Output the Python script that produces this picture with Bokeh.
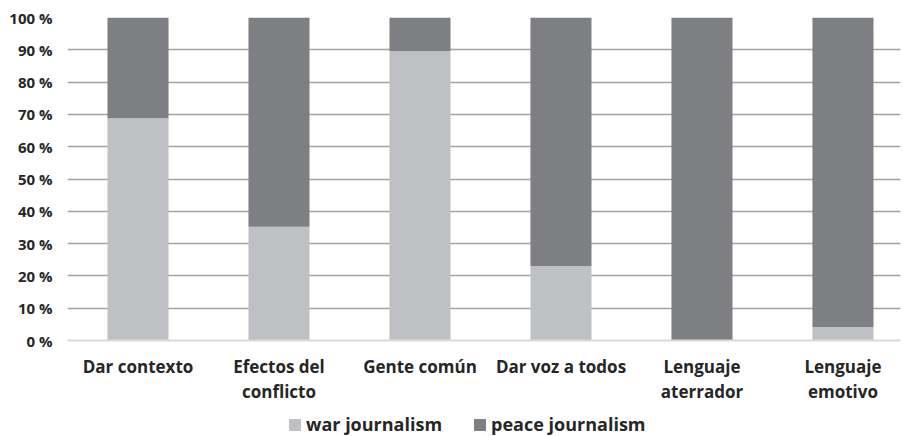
from bokeh.plotting import figure
from bokeh.layouts import column
from bokeh.models import Range1d, FixedTicker, Legend, LegendItem, ColumnDataSource
from bokeh.embed import file_html
from bokeh.resources import INLINE

categories = ["Dar contexto", "Efectos del\nconflicto", "Gente común", "Dar voz a todos",
              "Lenguaje\naterrador", "Lenguaje\nemotivo"]
positions = [0.5, 1.5, 2.5, 3.5, 4.5, 5.5]
war = [68.8, 35.2, 89.6, 23.1, 0.0, 4.2]
peace = [31.2, 64.8, 10.4, 76.9, 100.0, 95.8]
series_names = ["war journalism", "peace journalism"]
y_ticks = [0, 10, 20, 30, 40, 50, 60, 70, 80, 90, 100]

FONT = "Open Sans"
WAR_C = "#bfc0c4"
PEACE_C = "#7e7f83"

src = ColumnDataSource(dict(x=positions, war=war, peace=peace))

p = figure(width=903, height=405, output_backend="svg", toolbar_location=None,
           x_range=Range1d(0, 5.908), y_range=Range1d(0, 100),
           min_border_left=67, min_border_right=3, min_border_top=17, min_border_bottom=63)
p.outline_line_color = None
p.background_fill_color = "white"

r = p.vbar_stack(["war", "peace"], x="x", width=0.433, source=src,
                 color=[WAR_C, PEACE_C], line_color=None)

p.xgrid.grid_line_color = None
p.ygrid.grid_line_color = "#a3a3a3"
p.ygrid.grid_line_width = 1.5
p.ygrid.ticker = FixedTicker(ticks=y_ticks[1:])

p.yaxis.ticker = FixedTicker(ticks=y_ticks)
p.yaxis.major_label_overrides = {t: f"{t} %" for t in y_ticks}
p.yaxis.axis_line_color = None
p.yaxis.major_tick_line_color = None
p.yaxis.minor_tick_line_color = None
p.yaxis.major_label_standoff = 9
p.yaxis.major_label_text_font = FONT
p.yaxis.major_label_text_font_style = "bold"
p.yaxis.major_label_text_font_size = "15px"
p.yaxis.major_label_text_color = "#262626"

p.xaxis.ticker = FixedTicker(ticks=positions)
p.xaxis.major_label_overrides = {pos: c for pos, c in zip(positions, categories)}
p.xaxis.axis_line_color = "#d9d9d9"
p.xaxis.axis_line_width = 2
p.xaxis.major_tick_line_color = None
p.xaxis.minor_tick_line_color = None
p.xaxis.major_label_standoff = 8
p.xaxis.major_label_text_font = FONT
p.xaxis.major_label_text_font_style = "bold"
p.xaxis.major_label_text_font_size = "17px"
p.xaxis.major_label_text_color = "#262626"
p.xaxis.major_label_text_line_height = 1.1

# Legend strip below the chart (its frame is aligned with the chart's frame)
p2 = figure(width=903, height=31, output_backend="svg", toolbar_location=None,
            x_range=Range1d(0, 1), y_range=Range1d(0, 1),
            x_axis_location=None, y_axis_location=None,
            min_border_left=0, min_border_right=0, min_border_top=0, min_border_bottom=0)
p2.grid.visible = False
p2.outline_line_color = None
proxy = ColumnDataSource(dict(x=[float("nan")], y=[float("nan")]))
g1 = p2.rect(x="x", y="y", width=1, height=1, source=proxy,
             fill_color=WAR_C, line_color=None)
g2 = p2.rect(x="x", y="y", width=1, height=1, source=proxy,
             fill_color=PEACE_C, line_color=None)

legend = Legend(items=[LegendItem(label=series_names[0], renderers=[g1]),
                       LegendItem(label=series_names[1], renderers=[g2])],
                orientation="horizontal", location=(220, 0),
                label_text_font=FONT, label_text_font_style="bold",
                label_text_font_size="18px", label_text_color="#262626",
                glyph_width=15, glyph_height=15, spacing=30, padding=0, margin=0,
                label_standoff=4, border_line_color=None, background_fill_alpha=0)
p2.add_layout(legend, "center")

layout = column(p, p2, spacing=0)
open("out.html", "w").write(file_html(layout, INLINE))
